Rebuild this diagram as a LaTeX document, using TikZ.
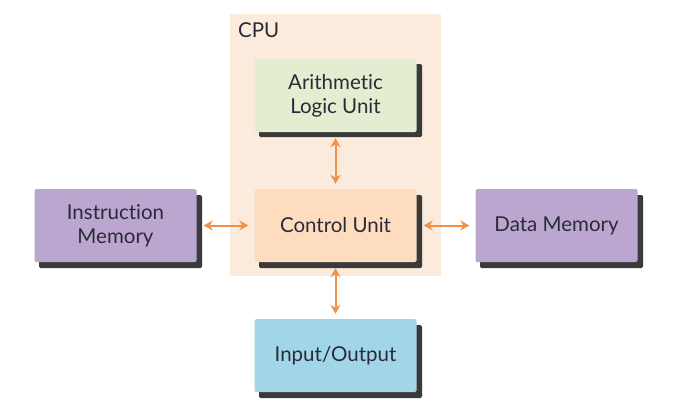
\documentclass[tikz,border=0pt]{standalone}
\usepackage{fontspec}
\setmainfont[Ligatures=NoCommon]{Lato}
\usetikzlibrary{arrows.meta}
\definecolor{cpubg}{HTML}{FBEBDC}
\definecolor{alucol}{HTML}{E2EECF}
\definecolor{cucol}{HTML}{FDDDBE}
\definecolor{memcol}{HTML}{BBA6D0}
\definecolor{iocol}{HTML}{A0D6E8}
\definecolor{arrcol}{HTML}{F0914A}
\definecolor{shad}{HTML}{3A3A3A}
\definecolor{txt}{HTML}{2A2A38}
\tikzset{
  unit/.style={draw=none, rounded corners=1.5pt, minimum width=162pt, minimum height=73pt, align=center, font=\fontsize{20.5}{24}\selectfont, text=txt, inner sep=0pt},
  shadowbox/.style={fill=shad, rounded corners=1.5pt},
  link/.style={draw=arrcol, line width=2pt, {Stealth[length=9pt,width=10pt]}-{Stealth[length=9pt,width=10pt]}}
}
\begin{document}
\begin{tikzpicture}[x=1pt,y=-1pt]
\useasboundingbox (0,0) rectangle (687,400);
\fill[cpubg] (230,14) rectangle (441,276);
\node[anchor=north west, font=\fontsize{20.5}{24}\selectfont, text=txt, inner sep=0pt] (cpulabel) at (238,22) {CPU};
% shadows
\fill[shadowbox] (259,64) rectangle (422,137);
\fill[shadowbox] (259,195) rectangle (422,268);
\fill[shadowbox] (39,195) rectangle (202,268);
\fill[shadowbox] (480,195) rectangle (643,268);
\fill[shadowbox] (259,325) rectangle (422,398);
% boxes
\node[unit, fill=alucol] (alu) at (335.5,95.5) {Arithmetic\\Logic Unit};
\node[unit, fill=cucol] (cu) at (335.5,225.5) {Control Unit};
\node[unit, fill=memcol] (im) at (115.5,225.5) {Instruction\\Memory};
\node[unit, fill=memcol] (dm) at (556.5,225.5) {Data Memory};
\node[unit, fill=iocol] (io) at (335.5,355.5) {Input/Output};
% links
\draw[link] ([yshift=-6pt]alu.south) -- ([yshift=5pt]cu.north);
\draw[link] ([yshift=-6pt]cu.south) -- ([yshift=5pt]io.north);
\draw[link] ([xshift=7pt]im.east) -- ([xshift=-6pt]cu.west);
\draw[link] ([xshift=7pt]cu.east) -- ([xshift=-6pt]dm.west);
\end{tikzpicture}
\end{document}
